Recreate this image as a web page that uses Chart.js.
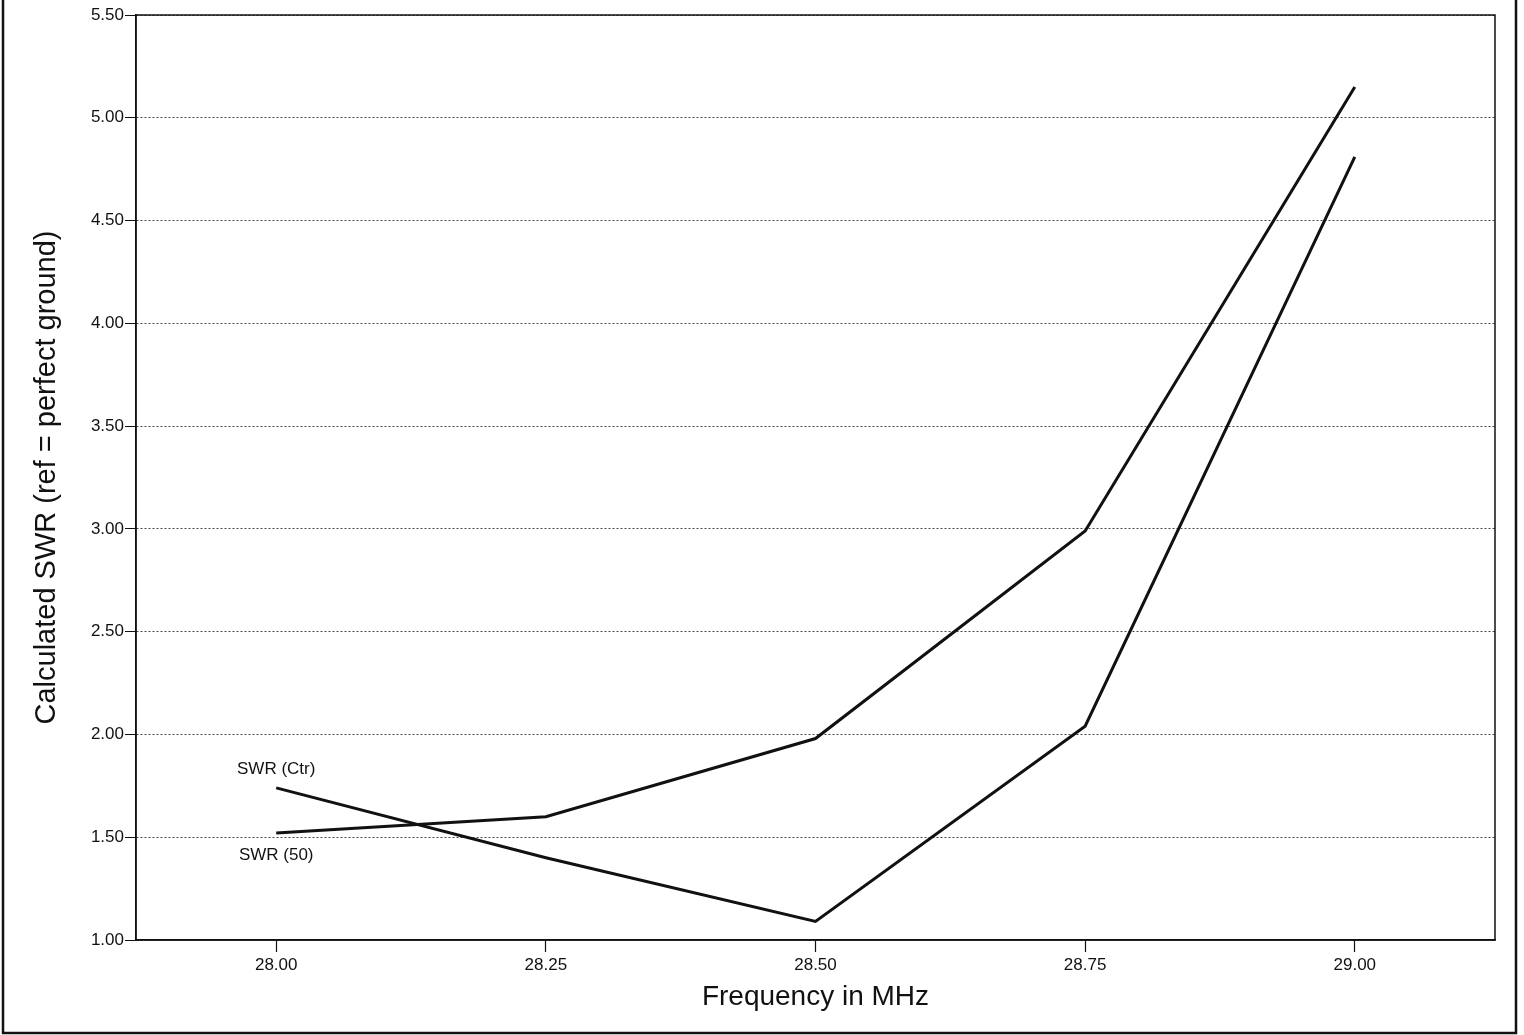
<!DOCTYPE html>
<html>
<head>
<meta charset="utf-8">
<script src="https://cdn.jsdelivr.net/npm/chart.js@4.4.0/dist/chart.umd.min.js"></script>
<style>
  html, body { margin: 0; padding: 0; background: #ffffff; }
  #wrap { width: 1524px; height: 1035px; }
</style>
</head>
<body>
<div id="wrap"><canvas id="c" width="1524" height="1035"></canvas></div>
<script>
// ---- data ----
const frequencies = [28.00, 28.25, 28.50, 28.75, 29.00];
const swr50 = [1.52, 1.60, 1.98, 2.99, 5.15];
const swrCtr = [1.74, 1.40, 1.09, 2.04, 4.81];
const seriesLabels = ['SWR (50)', 'SWR (Ctr)'];
const xTickValues = [28.00, 28.25, 28.50, 28.75, 29.00];
const yTickValues = [1.00, 1.50, 2.00, 2.50, 3.00, 3.50, 4.00, 4.50, 5.00, 5.50];
const xTitle = 'Frequency in MHz';
const yTitle = 'Calculated SWR (ref = perfect ground)';

const FONT = "'Liberation Sans', Arial, Helvetica, sans-serif";
const INK = '#111111';

const toPoints = (xs, ys) => xs.map((x, i) => ({ x: x, y: ys[i] }));

// draws the plot frame, outer page border and series labels
const decor = {
  id: 'decor',
  afterDatasetsDraw(chart) {
    const ctx = chart.ctx;
    const a = chart.chartArea;
    ctx.save();
    // plot frame
    ctx.strokeStyle = INK;
    ctx.lineWidth = 1.5;
    ctx.setLineDash([]);
    ctx.strokeRect(a.left, a.top, a.right - a.left, a.bottom - a.top);
    // outer page border (left, right, bottom)
    ctx.lineWidth = 2.5;
    ctx.beginPath();
    ctx.moveTo(3, 0); ctx.lineTo(3, 1033);
    ctx.lineTo(1516, 1033);
    ctx.lineTo(1516, 0);
    ctx.stroke();
    // series labels next to first points
    ctx.fillStyle = INK;
    ctx.font = "17px " + FONT;
    ctx.textAlign = 'center';
    ctx.textBaseline = 'middle';
    const p50 = chart.getDatasetMeta(0).data[0];
    const pCtr = chart.getDatasetMeta(1).data[0];
    ctx.fillText(seriesLabels[0], p50.x, p50.y + 22);
    ctx.fillText(seriesLabels[1], pCtr.x, pCtr.y - 19);
    ctx.restore();
  }
};

new Chart(document.getElementById('c'), {
  type: 'line',
  data: {
    datasets: [
      {
        label: seriesLabels[0],
        data: toPoints(frequencies, swr50),
        borderColor: INK,
        borderWidth: 3,
        pointRadius: 0,
        tension: 0,
        fill: false
      },
      {
        label: seriesLabels[1],
        data: toPoints(frequencies, swrCtr),
        borderColor: INK,
        borderWidth: 3,
        pointRadius: 0,
        tension: 0,
        fill: false
      }
    ]
  },
  options: {
    responsive: false,
    devicePixelRatio: 1,
    animation: false,
    layout: { padding: { left: 0, right: 29, top: 15, bottom: 0 } },
    plugins: {
      legend: { display: false },
      tooltip: { enabled: false },
      title: { display: false }
    },
    scales: {
      x: {
        type: 'linear',
        min: 27.87,
        max: 29.13,
        afterBuildTicks(scale) {
          scale.ticks = xTickValues.map(v => ({ value: v }));
        },
        afterFit(scale) { scale.height = 95; },
        grid: {
          drawOnChartArea: false,
          drawTicks: true,
          tickLength: 12,
          tickColor: INK,
          tickWidth: 1.2
        },
        border: { display: true, color: INK, width: 1.5 },
        ticks: {
          color: INK,
          font: { family: FONT, size: 17 },
          padding: 3,
          maxRotation: 0,
          autoSkip: false,
          callback: v => Number(v).toFixed(2)
        },
        title: {
          display: true,
          text: xTitle,
          color: INK,
          font: { family: FONT, size: 28 },
          padding: { top: 0, bottom: 21 }
        }
      },
      y: {
        type: 'linear',
        min: 1,
        max: 5.5,
        afterBuildTicks(scale) {
          scale.ticks = yTickValues.map(v => ({ value: v }));
        },
        afterFit(scale) { scale.width = 136; },
        grid: {
          drawOnChartArea: true,
          drawTicks: true,
          tickLength: 11,
          color: '#444444',
          lineWidth: 1,
          tickColor: INK,
          tickWidth: 1.2,
          tickBorderDash: [1, 0]
        },
        border: { display: true, color: INK, width: 1.5, dash: [2, 2] },
        ticks: {
          color: INK,
          font: { family: FONT, size: 17 },
          padding: 1,
          autoSkip: false,
          callback: v => Number(v).toFixed(2)
        },
        title: {
          display: true,
          text: yTitle,
          color: INK,
          font: { family: FONT, size: 29 },
          padding: { top: 30, bottom: 0 }
        }
      }
    }
  },
  plugins: [decor]
});
</script>
</body>
</html>
